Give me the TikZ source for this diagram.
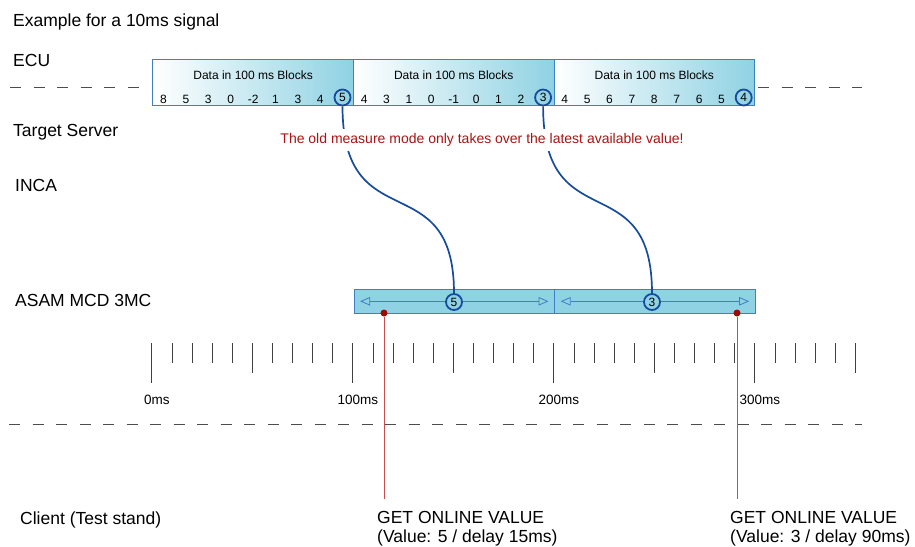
\documentclass[tikz,border=0pt]{standalone}
\usepackage{fontspec}
\setmainfont{Liberation Sans}
\usetikzlibrary{arrows.meta}
\definecolor{cellblue}{HTML}{8FD2E3}
\definecolor{rimblue}{HTML}{3E7FC6}
\definecolor{ringblue}{HTML}{174C9C}
\definecolor{hintred}{HTML}{A81414}
\definecolor{probered}{HTML}{C65050}
\definecolor{dotred}{HTML}{9C0B0B}
\newcommand{\fsz}[1]{\fontsize{#1}{#1}\selectfont}
\tikzset{
  lane/.style={anchor=base west,inner sep=0pt,font=\fsz{17.5}},
  block/.style={draw=rimblue,line width=0.8pt,left color=white,right color=cellblue,
    minimum width=200.6pt,minimum height=45.5pt,inner sep=0pt},
  slot/.style={draw=rimblue,line width=0.8pt,fill=cellblue,
    minimum width=200.6pt,minimum height=23.5pt,inner sep=0pt},
  cell/.style={anchor=base,inner sep=0pt,font=\fsz{12}},
  ring/.style={circle,draw=ringblue,line width=1.8pt,minimum size=16pt,inner sep=0pt,font=\fsz{12}},
  link/.style={ringblue,line width=1.7pt},
  span/.style={rimblue,line width=0.8pt,
    {Triangle[open,length=10pt,width=8.5pt]}-{Triangle[open,length=10pt,width=8.5pt]}},
  gap/.style={dash pattern=on 11pt off 12.5pt,black!70,line width=0.9pt},
  probe/.style={circle,fill=dotred,minimum size=7pt,inner sep=0pt},
  tick/.style={black!75,line width=0.8pt}
}
\begin{document}
\begin{tikzpicture}[x=1pt,y=-1pt]
  \useasboundingbox (0,0) rectangle (915,546);
  \node[lane] (title) at (13,27) {Example for a 10ms signal};
  \node[lane] (ecu) at (13,66) {ECU};
  \node[lane] (server) at (13,136) {Target Server};
  \node[lane] (inca) at (15,191) {INCA};
  \node[lane] (asam) at (15,306) {ASAM MCD 3MC};
  \node[lane] (client) at (20,524) {Client (Test stand)};
  \draw[gap] (10,87.5) -- (145,87.5);
  \draw[gap] (758,87.5) -- (862,87.5);
  \draw[gap] (9,424) -- (862,424);
  \foreach \k/\vals/\endval in {0/{8,5,3,0,-2,1,3,4}/5,1/{4,3,1,0,-1,0,1,2}/3,2/{4,5,6,7,8,7,6,5}/4}{
    \node[block] (blk\k) at (253.1+200.6*\k,82.3) {};
    \node[cell] (head\k) at (253.1+200.6*\k,79) {Data in 100 ms Blocks};
    \foreach \v [count=\i from 0] in \vals
      \node[cell] (val\k\i) at (163.5+200.6*\k+22.4*\i,103) {\v};
    \node[ring] (last\k) at (342.5+200.6*\k,97.5) {\endval};
  }
  \foreach \k/\m in {0/5,1/3}{
    \node[slot] (slot\k) at (454.3+200.6*\k,301.3) {};
    \draw[span] ([xshift=6.5pt]slot\k.west) -- ([xshift=-6.5pt]slot\k.east);
    \node[ring,fill=cellblue] (mark\k) at (454+198*\k,302) {\m};
    \draw[link] (last\k.south) .. controls +(0,135) and +(0,-130) .. (mark\k.north);
  }
  \node[fill=white,text=hintred,font=\fsz{14},inner xsep=1pt,inner ysep=4pt] (note)
    at (482,140) {The old measure mode only takes over the latest available value!};
  \foreach \i in {0,...,35}{
    \pgfmathsetmacro\ticklen{ifthenelse(mod(\i,10)==0,40,ifthenelse(mod(\i,5)==0,30,20))}
    \draw[tick,shift={(151.8+20.1*\i,343)}] (0,0) -- (0,\ticklen);
  }
  \foreach \t in {0,100,200,300}
    \node[anchor=base,font=\fsz{13.5},inner sep=0pt] (ms\t) at (156.8+2.01*\t,404) {\t ms};
  \foreach \k/\px/\txt in {0/384/{(Value: 5 / delay 15ms)},1/737/{(Value: 3 / delay 90ms)}}{
    \coordinate (foot\k) at (\px,499);
    \node[probe] (pick\k) at (\px,313) {};
    \draw[probered,line width=1pt] (pick\k) -- (foot\k);
    \node[lane] (get\k) at (\px-7,523) {GET ONLINE VALUE};
    \node[lane] (info\k) at (\px-7,542) {\txt};
  }
\end{tikzpicture}
\end{document}
